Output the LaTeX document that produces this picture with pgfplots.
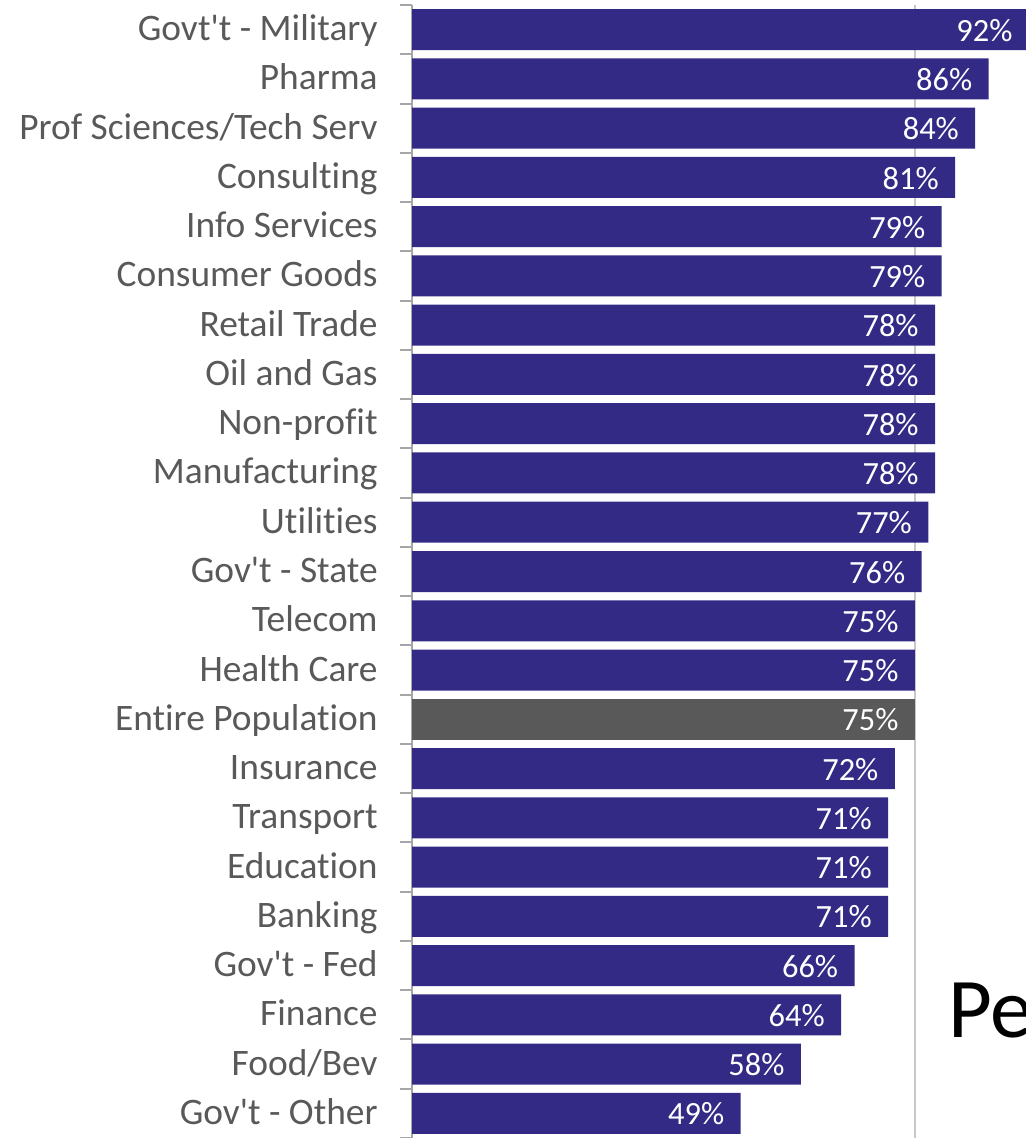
\documentclass[border=0pt]{standalone}
\usepackage{pgfplots}
\pgfplotsset{compat=1.18}
\usepackage{fontspec}
\setmainfont{Carlito}[Ligatures={NoCommon,NoContextual,NoRequired},RawFeature={-liga;-clig;-calt;-dlig}]
\definecolor{barblue}{RGB}{51,42,134}
\definecolor{bargray}{RGB}{89,89,89}
\definecolor{labgray}{RGB}{89,89,89}
\definecolor{axgray}{RGB}{166,166,166}
\definecolor{gridgray}{RGB}{200,200,200}
\newcommand{\q}{\textquotesingle}
\begin{document}
\begin{tikzpicture}[x=1pt,y=1pt]
\begin{axis}[
 at={(206pt,0pt)}, anchor=south west,
 scale only axis, width=335.25pt, height=566.5pt,
 xbar, bar width=20.5pt, bar shift=0pt,
 xmin=0, xmax=100, ymin=-0.5, ymax=22.5, y dir=reverse,
 axis y line*=left, axis x line*=bottom,
 x axis line style={draw=none},
 y axis line style={draw=axgray, line width=1pt, -},
 xtick={75}, xticklabels={}, major x tick style={draw=none},
 xmajorgrids, grid style={draw=gridgray, line width=0.75pt},
 ytick={0,...,22},
 yticklabels={Govt\q t - Military,Pharma,Prof Sciences/Tech Serv,Consulting,Info Services,Consumer Goods,Retail Trade,Oil and Gas,Non-profit,Manufacturing,Utilities,Gov\q t - State,Telecom,Health Care,Entire Population,Insurance,Transport,Education,Banking,Gov\q t - Fed,Finance,Food/Bev,Gov\q t - Other},
 major tick length=0pt,
 major y tick style={draw=none},
 minor ytick={-0.5,0.5,...,22.5}, minor tick length=6pt, tick align=outside,
 minor y tick style={draw=axgray, line width=1pt},
 yticklabel style={font=\fontsize{18.7}{20}\selectfont, text=labgray, inner sep=0pt, anchor=base east, xshift=-17pt, yshift=-5.5pt},
 point meta=x,
 /pgf/number format/assume math mode=true,
 nodes near coords={\pgfmathprintnumber[fixed,precision=0,assume math mode=true]{\pgfplotspointmeta}\%},
 every node near coord/.append style={anchor=base east, xshift=-8pt, yshift=-5.8pt, inner sep=0pt, text=white, font=\fontsize{16.2}{18}\selectfont},
]
\addplot[fill=barblue, draw=none] coordinates {
(92,0) (86,1) (84,2) (81,3) (79,4) (79,5) (78,6) (78,7) (78,8) (78,9) (77,10) (76,11) (75,12) (75,13)
(72,15) (71,16) (71,17) (71,18) (66,19) (64,20) (58,21) (49,22)};
\addplot[fill=bargray, draw=none] coordinates {(75,14)};
\end{axis}
\node[anchor=base west, font=\fontsize{42.5}{50}\selectfont, inner sep=0pt] at (474pt,50pt) {Pe};
\pgfresetboundingbox
\useasboundingbox (0,0) rectangle (512.5pt,569pt);
\end{tikzpicture}
\end{document}
